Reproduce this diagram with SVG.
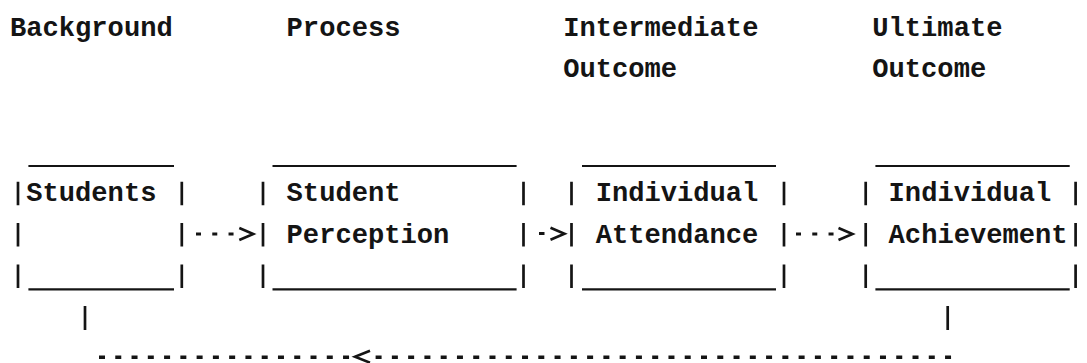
<svg xmlns="http://www.w3.org/2000/svg" width="1087" height="363" viewBox="0 0 1087 363">
<style>
text { font-family: "Liberation Mono", "Courier New", "DejaVu Sans Mono", monospace; font-size: 27.11px; font-weight: bold; fill: #141414; }
.bar { stroke: #141414; stroke-width: 2.7; fill: none; stroke-dasharray: 23.5 17.9; }
.rule { stroke: #141414; stroke-width: 2.2; fill: none; }
.seg { stroke: #141414; stroke-width: 2.7; fill: none; }
.dash { stroke: #141414; stroke-width: 3; fill: none; stroke-dasharray: 5 11.27; }
.dashb { stroke: #141414; stroke-width: 3.4; fill: none; stroke-dasharray: 6 10.27; }
.chev { stroke: #141414; stroke-width: 2.6; fill: none; stroke-linejoin: miter; }
</style>
<defs>
<path id="chev-right" class="chev" d="M0,-6 L14,0 L0,6"/>
<path id="chev-left" class="chev" d="M15,-6 L0,0 L15,6"/>
</defs>
<rect width="1087" height="363" fill="#ffffff"/>
<g id="headers">
<text x="10" y="35.8">Background</text>
<text x="286.6" y="35.8">Process</text>
<text x="563.2" y="35.8">Intermediate</text>
<text x="563.2" y="77.2">Outcome</text>
<text x="872.3" y="35.8">Ultimate</text>
<text x="872.3" y="77.2">Outcome</text>
</g>
<g id="node-students">
<line class="rule" x1="28.4" y1="166" x2="174" y2="166"/>
<line class="rule" x1="28.4" y1="289.3" x2="174" y2="289.3"/>
<line class="bar" x1="18" y1="181.7" x2="18" y2="289"/>
<line class="bar" x1="181.8" y1="181.7" x2="181.8" y2="289"/>
<text x="26.27" y="201.4">Students</text>
</g>
<g id="node-student-perception">
<line class="rule" x1="272.5" y1="166" x2="516.6" y2="166"/>
<line class="rule" x1="272.5" y1="289.3" x2="516.6" y2="289.3"/>
<line class="bar" x1="263" y1="181.7" x2="263" y2="289"/>
<line class="bar" x1="523.5" y1="181.7" x2="523.5" y2="289"/>
<text x="286.6" y="201.4">Student</text>
<text x="286.6" y="242.8">Perception</text>
</g>
<g id="node-individual-attendance">
<line class="rule" x1="582" y1="166" x2="776" y2="166"/>
<line class="rule" x1="582" y1="289.3" x2="776" y2="289.3"/>
<line class="bar" x1="571.5" y1="181.7" x2="571.5" y2="289"/>
<line class="bar" x1="784" y1="181.7" x2="784" y2="289"/>
<text x="595.7" y="201.4">Individual</text>
<text x="595.7" y="242.8">Attendance</text>
</g>
<g id="node-individual-achievement">
<line class="rule" x1="875.4" y1="166" x2="1069.7" y2="166"/>
<line class="rule" x1="875.4" y1="289.3" x2="1069.7" y2="289.3"/>
<line class="bar" x1="865.7" y1="181.7" x2="865.7" y2="289"/>
<line class="bar" x1="1075.6" y1="181.7" x2="1075.6" y2="289"/>
<text x="888.6" y="201.4">Individual</text>
<text x="888.6" y="242.8">Achievement</text>
</g>
<g id="connectors">
<g id="conn-students-perception">
<line class="dash" x1="196" y1="234" x2="234" y2="234"/>
<use href="#chev-right" x="239.3" y="234"/>
</g>
<g id="conn-perception-attendance">
<line class="seg" x1="539" y1="233.5" x2="544.5" y2="233.5" style="stroke-width:3"/>
<use href="#chev-right" x="550.5" y="233.7"/>
</g>
<g id="conn-attendance-achievement">
<line class="dash" x1="796" y1="234" x2="834" y2="234"/>
<use href="#chev-right" x="838.5" y="234"/>
</g>
<g id="conn-feedback">
<line class="seg" x1="947.7" y1="306" x2="947.7" y2="330"/>
<line class="dashb" x1="375.6" y1="357.3" x2="951.3" y2="357.3"/>
<use href="#chev-left" x="355" y="356.7"/>
<line class="dashb" x1="99" y1="357.3" x2="349.5" y2="357.3"/>
<line class="seg" x1="85" y1="306" x2="85" y2="330"/>
</g>
</g>
</svg>
